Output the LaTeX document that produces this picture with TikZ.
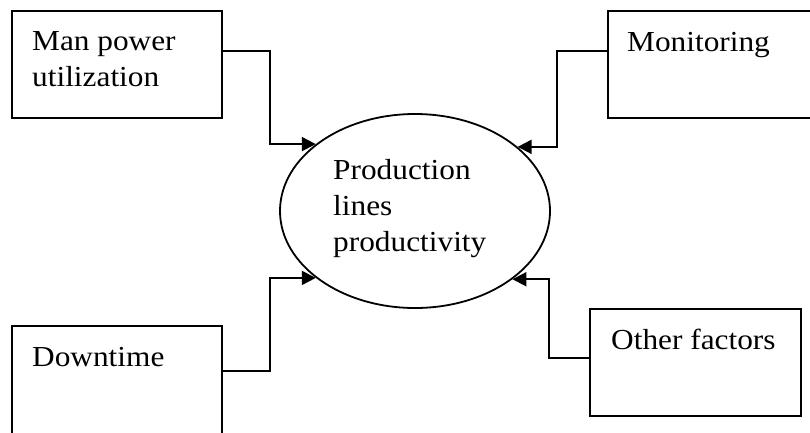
\documentclass[tikz,border=0pt]{standalone}
\usepackage{fontspec}
\setmainfont{Liberation Serif}[FakeStretch=1.08]
\usetikzlibrary{shapes.geometric,arrows.meta}
\begin{document}
\begin{tikzpicture}[x=1pt,y=-1pt,
  box/.style={draw,line width=2pt,rectangle,inner sep=0pt,anchor=north west},
  lbl/.style={anchor=base west,inner sep=0pt,align=left,font=\fontsize{29}{36}\selectfont},
  conn/.style={line width=2pt,-{Triangle[length=14pt,width=14pt]}}]
\useasboundingbox (0,0) rectangle (810,432);
\clip (0,0) rectangle (810,432);
\node[box,minimum width=210pt,minimum height=107pt] (mp) at (11,10) {};
\node[box,minimum width=230pt,minimum height=107pt] (mon) at (607,10) {};
\node[box,minimum width=210pt,minimum height=130pt] (dt) at (11,325) {};
\node[box,minimum width=211pt,minimum height=107pt] (of) at (589,308) {};
\node[draw,ellipse,line width=1.8pt,minimum width=270pt,minimum height=194pt,inner sep=0pt] (ell) at (415,211) {};
\node[lbl] (tmp) at (32,86.2) {Man power\\utilization};
\node[lbl] (tmon) at (627,51.7) {Monitoring};
\node[lbl] (tdt) at (32,366.7) {Downtime};
\node[lbl] (tof) at (611,349.3) {Other factors};
\node[lbl] (tell) at (333,251) {Production\\lines\\productivity};
\draw[conn] ([yshift=-41pt]mp.north east) -- ++(47,0) |- (ell.146);
\draw[conn] ([yshift=-41pt]mon.north west) -- ++(-50,0) |- (ell.32);
\draw[conn] ([yshift=-46pt]dt.north east) -- ++(47,0) |- (ell.214);
\draw[conn] ([yshift=-50pt]of.north west) -- ++(-40,0) |- (ell.-35);
\end{tikzpicture}
\end{document}
